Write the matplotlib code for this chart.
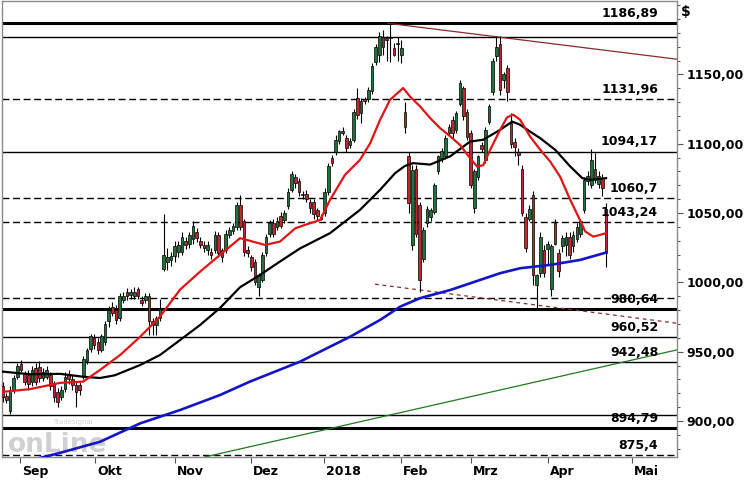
import matplotlib
matplotlib.use("Agg")
import matplotlib.pyplot as plt
from matplotlib.ticker import MultipleLocator, FixedLocator, FuncFormatter

opens = [925, 918, 907, 922, 932, 941, 934, 933, 928, 938,
         939, 931, 932, 933, 927, 921, 917, 923, 934, 930,
         926, 926, 932, 943, 952, 960, 957, 951, 957, 972,
         982, 980, 974, 987, 993, 991, 990, 995, 987, 987,
         990, 972, 969, 974, 1010, 1015, 1016, 1019, 1022, 1022,
         1030, 1028, 1031, 1036, 1030, 1027, 1023, 1022, 1023, 1034,
         1023, 1023, 1034, 1037, 1040, 1056, 1044, 1023, 1018, 1015,
         997, 1002, 1021, 1035, 1043, 1040, 1048, 1045, 1055, 1067,
         1076, 1073, 1064, 1064, 1058, 1058, 1052, 1047, 1050, 1065,
         1090, 1094, 1102, 1108, 1104, 1099, 1103, 1133, 1122, 1132,
         1132, 1138, 1159, 1164, 1177, 1176, 1177, 1169, 1172, 1164,
         1123, 1091, 1027, 1082, 1056, 1017, 1043, 1047, 1051, 1080,
         1090, 1091, 1108, 1117, 1110, 1129, 1140, 1123, 1108, 1054,
         1076, 1099, 1088, 1116, 1137, 1163, 1172, 1146, 1155, 1115,
         1101, 1094, 1082, 1047, 1046, 1063, 998, 1007, 1023, 1024,
         995, 1043, 1021, 1026, 1027, 1033, 1026, 1031, 1035, 1052,
         1073, 1070, 1082, 1071, 1075, 1053]
highs = [928, 920, 925, 933, 942, 944, 936, 937, 940, 942,
         943, 938, 940, 935, 929, 924, 925, 935, 937, 933,
         928, 928, 947, 953, 963, 963, 960, 963, 972, 983,
         986, 984, 992, 993, 996, 995, 997, 997, 990, 992,
         992, 974, 976, 988, 1049, 1025, 1022, 1030, 1030, 1036,
         1033, 1036, 1044, 1039, 1033, 1030, 1030, 1025, 1037, 1036,
         1025, 1038, 1040, 1043, 1058, 1063, 1046, 1026, 1020, 1017,
         1007, 1022, 1035, 1045, 1046, 1047, 1051, 1052, 1068, 1080,
         1078, 1075, 1066, 1067, 1060, 1060, 1054, 1049, 1068, 1086,
         1092, 1106, 1110, 1112, 1106, 1104, 1125, 1140, 1133, 1134,
         1141, 1158, 1172, 1181, 1182, 1178, 1186.89, 1173, 1177, 1175,
         1130, 1094, 1085, 1085, 1058, 1040, 1055, 1054, 1072, 1092,
         1097, 1106, 1114, 1120, 1124, 1146, 1142, 1125, 1110, 1082,
         1092, 1101, 1112, 1129, 1162, 1178, 1178, 1152, 1157, 1122,
         1104, 1097, 1085, 1050, 1056, 1066, 1006, 1036, 1027, 1030,
         1028, 1046, 1024, 1034, 1036, 1036, 1037, 1043, 1046, 1076,
         1080, 1096, 1093, 1080, 1078, 1057]
lows = [914, 913, 905, 920, 930, 935, 926, 922, 925, 926,
        928, 929, 930, 922, 914, 910, 915, 921, 927, 922,
        910, 919, 930, 941, 950, 952, 948, 950, 955, 968,
        976, 970, 972, 985, 987, 988, 988, 988, 983, 985,
        962, 962, 962, 972, 1008, 1009, 1012, 1015, 1018, 1020,
        1024, 1025, 1028, 1029, 1025, 1022, 1020, 1017, 1021, 1018,
        1015, 1021, 1032, 1035, 1038, 1038, 1019, 1018, 1008, 998,
        990, 1000, 1019, 1033, 1033, 1038, 1039, 1043, 1053, 1065,
        1068, 1062, 1060, 1058, 1050, 1046, 1045, 1045, 1048, 1063,
        1084, 1092, 1100, 1106, 1094, 1097, 1101, 1118, 1115, 1129,
        1130, 1136, 1157, 1159, 1164, 1160, 1159, 1163, 1160, 1158,
        1108, 1050, 1023, 1033, 993, 1015, 1040, 1044, 1049, 1078,
        1087, 1089, 1106, 1104, 1108, 1127, 1117, 1103, 1068, 1050,
        1074, 1094, 1086, 1114, 1135, 1160, 1135, 1140, 1131, 1097,
        1091, 1085, 1048, 1022, 1044, 998, 981, 1004, 1004, 1013,
        990, 1027, 1004, 1022, 1019, 1017, 1022, 1029, 1033, 1050,
        1070, 1068, 1072, 1068, 1062, 1011]
closes = [917, 915, 922, 931, 940, 937, 928, 927, 937, 928,
          931, 935, 937, 925, 917, 914, 922, 932, 930, 926,
          921, 922, 945, 951, 961, 955, 951, 961, 970, 980,
          978, 973, 990, 990, 990, 993, 993, 990, 985, 990,
          972, 969, 974, 981, 1020, 1018, 1019, 1026, 1027, 1033,
          1027, 1034, 1041, 1032, 1027, 1025, 1027, 1020, 1034, 1021,
          1018, 1035, 1038, 1041, 1056, 1040, 1022, 1021, 1011, 1000,
          1005, 1020, 1033, 1043, 1035, 1044, 1041, 1050, 1065, 1078,
          1072, 1065, 1063, 1060, 1054, 1049, 1048, 1046, 1065, 1084,
          1086, 1103, 1109, 1109, 1097, 1102, 1123, 1121, 1131, 1131,
          1139, 1156, 1170, 1178, 1170, 1175, 1176, 1164, 1173, 1169,
          1112, 1057, 1081, 1035, 1002, 1038, 1053, 1052, 1070, 1091,
          1095, 1104, 1112, 1108, 1122, 1144, 1120, 1105, 1070, 1080,
          1091, 1096, 1110, 1127, 1160, 1170, 1139, 1150, 1137, 1100,
          1098, 1092, 1050, 1025, 1053, 1005, 1005, 1033, 1007, 1028,
          1026, 1028, 1008, 1032, 1033, 1020, 1034, 1040, 1044, 1074,
          1077, 1088, 1074, 1077, 1068, 1021]

# gleitende Durchschnitte (Stuetzpunkte: Kerzen-Index, Kurs)
ma_red_x = [0, 7.5, 15.7, 22, 26.6, 32.1, 37.6, 43, 48.5, 54, 59.4, 64.9, 67.6,
            71.7, 75.8, 80, 82.7, 86.8, 89.5, 93.6, 97.7, 100.5, 103.2, 105.9,
            109.5, 111.4, 114.1, 116.9, 119.6, 122.4, 125.1, 127.8, 129.7, 131.4,
            133.3, 136, 137.9, 139.6, 141.5, 144.2, 147, 149.7, 152.4, 155.2,
            157.4, 159.3, 161.5, 163.4, 165]
ma_red_y = [921, 923, 927.5, 928.4, 936.8, 947.6, 960.8, 975.3, 994.8, 1007.8,
            1019.8, 1031.9, 1030, 1027, 1029.4, 1039, 1041.5, 1045, 1059.5,
            1077.6, 1088.4, 1100.5, 1117.3, 1131.7, 1140.2, 1134, 1127, 1118.5,
            1111.3, 1105.3, 1099, 1089.6, 1083.6, 1084.5, 1095.6, 1110, 1119,
            1121, 1117.3, 1105.3, 1095.6, 1087.2, 1076.4, 1059.5, 1047.5, 1036.7,
            1033, 1034.3, 1035.5]
ma_black_x = [0, 7.5, 15.7, 22, 26.6, 30.7, 37.6, 43, 48.5, 54, 59.4, 64.9, 70.4,
              75.8, 81.3, 89.5, 97.7, 103.2, 107.3, 110, 112.2, 116.9, 122.4,
              127.8, 131.4, 136, 139.3, 141.5, 144.2, 147, 151.1, 155.2, 158.5,
              160.7, 165]
ma_black_y = [935.6, 933.7, 934, 931.9, 931, 933, 940.4, 947.6, 958.4, 969.3,
              981.5, 996.5, 1005.4, 1015, 1024.5, 1035.5, 1052.3, 1066.8, 1078.8,
              1084, 1086, 1085, 1091, 1101.6, 1102.9, 1110, 1116, 1113.7, 1108.8,
              1104, 1095.6, 1083.6, 1075.2, 1074, 1075.2]
ma_blue_x = [7.5, 15.7, 26.6, 37.6, 48.5, 59.4, 67.6, 81.3, 95, 103.2, 108.7,
             114.1, 122.4, 136, 141.5, 149.7, 157.9, 165]
ma_blue_y = [871.5, 877, 885, 898.3, 907.9, 918.7, 928.4, 942.8, 960.8, 972.9,
             982.5, 988.6, 994.5, 1006.6, 1010.2, 1012.6, 1016.2, 1021.5]

# Trendlinien (Start/Ende)
trend_down = ([105.4, 184.4], [1186.89, 1161])
trend_support = ([101.8, 184.4], [998.7, 970.5])
trend_up = ([55.2, 184.4], [874, 951.3])

# horizontale Marken
levels = [1186.89, 1177.3, 1131.96, 1094.17, 1060.7, 1043.24, 988.6,
          980.64, 960.52, 942.48, 904, 894.79, 875.4]
level_styles = ["thick", "thin", "dash", "thin", "dash", "dash", "dash",
                "thick", "thin", "thin", "thin", "thick", "dash"]
level_labels = ["1186,89", "", "1131,96", "1094,17", "1060,7", "1043,24", "",
                "980,64", "960,52", "942,48", "", "894,79", "875,4"]

price_ticks = [900, 950, 1000, 1050, 1100, 1150]
months = ["Sep", "Okt", "Nov", "Dez", "2018", "Feb", "Mrz", "Apr", "Mai"]
month_pos = [4.7, 25.2, 47.1, 67.9, 87.9, 108.9, 128, 149.1, 172.1]

fig = plt.figure(figsize=(7.5, 4.8), dpi=100)
ax = fig.add_axes([0.0027, 0.0479, 0.9, 0.9500])
ax.set_xlim(-0.2, 184.4)
ax.set_ylim(874, 1203)

# Marken
for lvl, st, lab in zip(levels, level_styles, level_labels):
    if st == "thick":
        ax.axhline(lvl, color="black", lw=2.2, zorder=1)
    elif st == "thin":
        ax.axhline(lvl, color="black", lw=1.0, zorder=1)
    else:
        ax.axhline(lvl, color="black", lw=1.0, ls=(0, (5, 2.6)), zorder=1)
    if lab:
        ax.annotate(lab, xy=(0.972, lvl), xycoords=("axes fraction", "data"),
                    xytext=(0, 2.5), textcoords="offset points", ha="right",
                    va="bottom", fontsize=9, fontweight="bold", zorder=6)

# Trendlinien
ax.plot(*trend_down, color="#8b2a2a", lw=0.9, zorder=2)
ax.plot(*trend_support, color="#8b2a2a", lw=0.9, ls=(0, (3, 3)), zorder=2)
ax.plot(*trend_up, color="#1f7a1f", lw=0.9, zorder=2)

# Kerzen
idx = list(range(len(closes)))
ax.vlines(idx, lows, highs, color="black", lw=0.8, zorder=3)
bottoms = [min(o, c) for o, c in zip(opens, closes)]
heights = [max(abs(c - o), 0.7) for o, c in zip(opens, closes)]
cols = ["#22703a" if c >= o else "#c0262c" for o, c in zip(opens, closes)]
ax.bar(idx, heights, bottom=bottoms, width=0.72, color=cols,
       edgecolor="black", linewidth=0.5, zorder=4)

# Durchschnitte
ax.plot(ma_blue_x, ma_blue_y, color="#1414c8", lw=1.9, zorder=5)
ax.plot(ma_black_x, ma_black_y, color="black", lw=1.6, zorder=5)
ax.plot(ma_red_x, ma_red_y, color="#e01414", lw=1.6, zorder=5)

# Wasserzeichen
ax.text(0.008, 0.012, "onLine", transform=ax.transAxes, fontsize=19,
        fontweight="bold", color="#d0d0d0", zorder=0)
ax.text(0.075, 0.072, "Tradesignal", transform=ax.transAxes, fontsize=5,
        color="#d0d0d0", zorder=0)

# Achsen
ax.yaxis.tick_right()
ax.yaxis.set_major_locator(FixedLocator(price_ticks))
ax.yaxis.set_minor_locator(MultipleLocator(10))
ax.yaxis.set_major_formatter(FuncFormatter(lambda v, p: f"{v:.2f}".replace(".", ",")))
ax.tick_params(axis="y", which="major", length=4, width=0.8, pad=3,
               labelsize=9, colors="#555555", labelcolor="black")
ax.tick_params(axis="y", which="minor", length=2.5, width=0.8, colors="#555555")
for t in ax.get_yticklabels():
    t.set_fontweight("bold")

ax.set_xticks(month_pos)
ax.set_xticklabels([])
ax.tick_params(axis="x", which="major", length=4, width=0.8, colors="#555555")
for pos, m in zip(month_pos, months):
    ax.annotate(m, xy=(pos, 0), xycoords=("data", "axes fraction"),
                xytext=(1.5, -6), textcoords="offset points", ha="left",
                va="top", fontsize=9, fontweight="bold")

for sp in ax.spines.values():
    sp.set_color("#8a8a8a")
    sp.set_linewidth(1.0)

fig.text(681 / 750, 1 - 5 / 480, "$", ha="left", va="top", fontsize=10,
         fontweight="bold")

fig.savefig("out.png", dpi=100)
